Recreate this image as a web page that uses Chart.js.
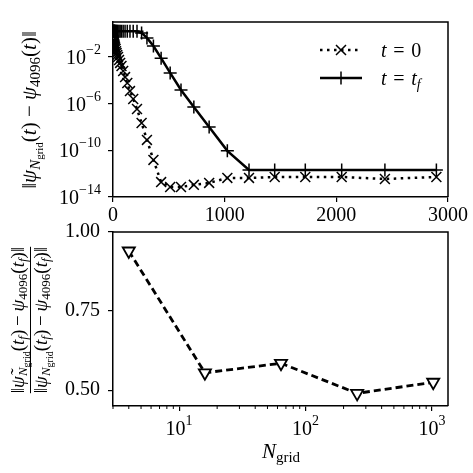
<!DOCTYPE html>
<html>
<head>
<meta charset="utf-8">
<script src="https://cdn.jsdelivr.net/npm/chart.js@4.4.1/dist/chart.umd.min.js"></script>
<style>
  html, body { margin: 0; padding: 0; background: #fff; }
  #wrap { position: relative; width: 473px; height: 473px; }
  canvas { position: absolute; left: 0; top: 0; }
</style>
</head>
<body>
<div id="wrap">
  <canvas id="topChart" width="473" height="473"></canvas>
  <canvas id="bottomChart" width="473" height="473"></canvas>
</div>
<script>
// grid sizes (top panel), quarter powers of two
const nGrid = [4, 5, 6, 7, 8, 10, 11, 13, 16, 19, 23, 27, 32, 38, 45, 54, 64, 76, 91, 108,
  128, 152, 181, 215, 256, 304, 362, 431, 512, 609, 724, 861, 1024, 1218, 1448, 1722, 2048, 2435, 2896];

// error at t = 0
const errT0 = [0.29, 0.23, 0.19, 0.16, 0.14, 0.13, 0.11, 0.098, 0.079, 0.065, 0.049, 0.032, 0.022, 0.015,
  0.010, 5.5e-3, 3.1e-3, 1.7e-3, 6.3e-4, 1.9e-4, 5.9e-5, 1.2e-5, 2.5e-6, 3.5e-7, 2.2e-8, 7.8e-10,
  1.5e-11, 1.9e-13, 7.2e-14, 7.2e-14, 1.1e-13, 1.6e-13, 4.3e-13, 4.3e-13, 5.2e-13, 5.2e-13, 5.2e-13,
  3.5e-13, 5.2e-13];

// error at t = t_f
const errTf = [1.6, 1.6, 1.6, 1.6, 1.6, 1.6, 1.6, 1.6, 1.6, 1.6, 1.6, 1.6, 1.6, 1.6, 1.6, 1.6, 1.6,
  1.6, 1.6, 1.6, 1.6, 1.6, 1.6, 1.6, 1.15, 0.43, 0.087, 8e-3, 4.3e-4, 1.5e-5, 5.2e-7, 1e-8, 9e-11,
  2.1e-12, 2.1e-12, 2.1e-12, 2.1e-12, 2.1e-12, 2.1e-12];

// bottom panel
const nRatio = [4, 16, 64, 256, 1024];
const ratio = [0.94, 0.555, 0.585, 0.49, 0.525];

const topXTicks = [0, 1000, 2000, 3000];
const topYTicks = [1e-14, 1e-10, 1e-6, 1e-2];
const botXTicks = [10, 100, 1000];
const botYTicks = [0.5, 0.75, 1.0];

const SERIF = "'Liberation Serif', 'DejaVu Serif', serif";

function fontOf(s) {
  return (s.i ? 'italic ' : '') + s.s + 'px ' + SERIF;
}
function richWidth(ctx, segs) {
  let w = 0;
  for (const s of segs) { ctx.font = fontOf(s); w += ctx.measureText(s.t).width; }
  return w;
}
function drawRich(ctx, segs, x, y, align) {
  const w = richWidth(ctx, segs);
  let cx = align === 'center' ? x - w / 2 : align === 'right' ? x - w : x;
  ctx.textAlign = 'left';
  ctx.textBaseline = 'alphabetic';
  for (const s of segs) {
    ctx.font = fontOf(s);
    ctx.fillText(s.t, cx, y + (s.dy || 0));
    cx += ctx.measureText(s.t).width;
  }
}
function powSegs(exp) {
  return [{ t: '10', s: 20 }, { t: exp, s: 14, dy: -10 }];
}
function frame(ctx, a) {
  ctx.strokeStyle = '#000';
  ctx.lineWidth = 1.5;
  ctx.beginPath();
  ctx.moveTo(a.left, a.top);
  ctx.lineTo(a.right, a.top);
  ctx.lineTo(a.right, a.bottom);
  ctx.stroke();
}

const gridOpts = { drawOnChartArea: false, color: '#000', tickLength: 5, lineWidth: 1.2 };
const borderOpts = { color: '#000', width: 1.5 };

// ---------- top panel ----------
const topExtras = {
  id: 'topExtras',
  afterDraw(chart) {
    const ctx = chart.ctx, a = chart.chartArea, ys = chart.scales.y;
    ctx.save();
    frame(ctx, a);
    ctx.fillStyle = '#000';
    // y tick labels 10^n
    for (const v of topYTicks) {
      const py = ys.getPixelForValue(v);
      drawRich(ctx, powSegs('\u2212' + Math.round(-Math.log10(v))), 101, py + 7, 'right');
    }
    // y title
    ctx.save();
    ctx.translate(30, 110);
    ctx.rotate(-Math.PI / 2);
    drawRich(ctx, [
      { t: '\u2016', s: 21 }, { t: '\u03c8', s: 21, i: 1 }, { t: 'N', s: 15, i: 1, dy: 4 },
      { t: 'grid', s: 11, dy: 7 }, { t: '(', s: 21 }, { t: 't', s: 21, i: 1 }, { t: ')', s: 21 },
      { t: ' \u2212 ', s: 21 }, { t: '\u03c8', s: 21, i: 1 }, { t: '4096', s: 15, dy: 4 },
      { t: '(', s: 21 }, { t: 't', s: 21, i: 1 }, { t: ')', s: 21 }, { t: '\u2016', s: 21 }
    ], 0, 6, 'center');
    ctx.restore();
    // legend
    ctx.lineWidth = 2.5;
    ctx.setLineDash([2.5, 4.5]);
    ctx.beginPath(); ctx.moveTo(320, 50); ctx.lineTo(362, 50); ctx.stroke();
    ctx.setLineDash([]);
    ctx.beginPath(); ctx.moveTo(320, 78); ctx.lineTo(362, 78); ctx.stroke();
    ctx.lineWidth = 1.5;
    ctx.beginPath();
    ctx.moveTo(336, 45); ctx.lineTo(346, 55); ctx.moveTo(336, 55); ctx.lineTo(346, 45);
    ctx.moveTo(341, 71.5); ctx.lineTo(341, 84.5);
    ctx.stroke();
    const eq = { t: ' \u200a=\u200a ', s: 20 };
    drawRich(ctx, [{ t: 't', s: 20, i: 1 }, eq, { t: '0', s: 20 }], 381, 57, 'left');
    drawRich(ctx, [{ t: 't', s: 20, i: 1 }, eq, { t: 't', s: 20, i: 1 },
      { t: 'f', s: 14, i: 1, dy: 4 }], 381, 85, 'left');
    ctx.restore();
  }
};

new Chart(document.getElementById('topChart'), {
  type: 'line',
  data: {
    datasets: [{
      label: 't = 0',
      data: nGrid.map((n, i) => ({ x: n, y: errT0[i] })),
      borderColor: '#000', borderWidth: 2.5, borderDash: [2.5, 4.5],
      pointStyle: 'crossRot', pointRadius: 7, pointBorderWidth: 1.5,
      pointBorderColor: '#000', pointBackgroundColor: '#000', tension: 0
    }, {
      label: 't = t_f',
      data: nGrid.map((n, i) => ({ x: n, y: errTf[i] })),
      borderColor: '#000', borderWidth: 2.5,
      pointStyle: 'cross', pointRadius: 6.5, pointBorderWidth: 1.5,
      pointBorderColor: '#000', pointBackgroundColor: '#000', tension: 0
    }]
  },
  options: {
    responsive: false,
    animation: false,
    layout: { padding: { left: 0, right: 25, top: 22, bottom: 241 } },
    plugins: { legend: { display: false }, tooltip: { enabled: false } },
    scales: {
      x: {
        type: 'linear', min: 0, max: 3000,
        afterFit(s) { s.height = 35; },
        afterBuildTicks(s) { s.ticks = topXTicks.map(v => ({ value: v })); },
        ticks: { callback: v => String(v), font: { family: SERIF, size: 20 }, color: '#000', padding: 2, maxRotation: 0 },
        grid: gridOpts, border: borderOpts
      },
      y: {
        type: 'logarithmic', min: 1e-14, max: 10,
        afterFit(s) { s.width = 113; },
        afterBuildTicks(s) { s.ticks = topYTicks.map(v => ({ value: v })); },
        ticks: { callback: () => '' },
        grid: gridOpts, border: borderOpts
      }
    }
  },
  plugins: [topExtras]
});

// ---------- bottom panel ----------
const botExtras = {
  id: 'botExtras',
  afterDraw(chart) {
    const ctx = chart.ctx, a = chart.chartArea, xs = chart.scales.x;
    ctx.save();
    frame(ctx, a);
    ctx.fillStyle = '#000';
    // minor ticks on log axis
    ctx.lineWidth = 1;
    ctx.beginPath();
    for (const d of [1, 10, 100, 1000]) {
      for (let m = 2; m <= 9; m++) {
        const v = m * d;
        if (v < xs.min || v > xs.max) continue;
        const px = xs.getPixelForValue(v);
        ctx.moveTo(px, a.bottom); ctx.lineTo(px, a.bottom + 3);
      }
    }
    ctx.stroke();
    // x tick labels 10^n
    for (const v of botXTicks) {
      const px = xs.getPixelForValue(v);
      drawRich(ctx, powSegs(String(Math.round(Math.log10(v)))), px, 435, 'center');
    }
    // x title
    drawRich(ctx, [{ t: 'N', s: 21, i: 1 }, { t: 'grid', s: 15, dy: 4 }], 281, 458, 'center');
    // y title (fraction)
    const num = [
      { t: '\u2016', s: 19 }, { t: '\u03c8\u0303', s: 19, i: 1 }, { t: 'N', s: 13, i: 1, dy: 3 },
      { t: 'grid', s: 10, dy: 6 }, { t: '(', s: 19 }, { t: 't', s: 19, i: 1 }, { t: 'f', s: 13, i: 1, dy: 3 },
      { t: ')', s: 19 }, { t: '\u2009\u2212\u2009', s: 19 }, { t: '\u03c8', s: 19, i: 1 }, { t: '4096', s: 13, dy: 3 },
      { t: '(', s: 19 }, { t: 't', s: 19, i: 1 }, { t: 'f', s: 13, i: 1, dy: 3 }, { t: ')', s: 19 },
      { t: '\u2016', s: 19 }
    ];
    const den = num.map(s => s.t === '\u03c8\u0303' ? Object.assign({}, s, { t: '\u03c8' }) : s);
    ctx.save();
    ctx.translate(0, 320);
    ctx.rotate(-Math.PI / 2);
    drawRich(ctx, num, 0, 24, 'center');
    drawRich(ctx, den, 0, 47, 'center');
    const w = Math.max(richWidth(ctx, num), richWidth(ctx, den));
    ctx.lineWidth = 1;
    ctx.beginPath(); ctx.moveTo(-w / 2, 30.5); ctx.lineTo(w / 2, 30.5); ctx.stroke();
    ctx.restore();
    ctx.restore();
  }
};

new Chart(document.getElementById('bottomChart'), {
  type: 'line',
  data: {
    datasets: [{
      label: 'ratio',
      data: nRatio.map((n, i) => ({ x: n, y: ratio[i] })),
      borderColor: '#000', borderWidth: 2.8, borderDash: [7, 4],
      pointStyle: 'triangle', pointRotation: 180, pointRadius: 7, pointBorderWidth: 1.8,
      pointBorderColor: '#000', pointBackgroundColor: '#fff', tension: 0
    }]
  },
  options: {
    responsive: false,
    animation: false,
    layout: { padding: { left: 0, right: 25, top: 232, bottom: 0 } },
    plugins: { legend: { display: false }, tooltip: { enabled: false } },
    scales: {
      x: {
        type: 'logarithmic', min: 3, max: 1340,
        afterFit(s) { s.height = 67; },
        afterBuildTicks(s) { s.ticks = botXTicks.map(v => ({ value: v })); },
        ticks: { callback: () => '' },
        grid: gridOpts, border: borderOpts
      },
      y: {
        type: 'linear', min: 0.45, max: 1.0,
        afterFit(s) { s.width = 113; },
        afterBuildTicks(s) { s.ticks = botYTicks.map(v => ({ value: v })); },
        ticks: { callback: v => v.toFixed(2), font: { family: SERIF, size: 20 }, color: '#000', padding: 8 },
        grid: gridOpts, border: borderOpts
      }
    }
  },
  plugins: [botExtras]
});
</script>
</body>
</html>
